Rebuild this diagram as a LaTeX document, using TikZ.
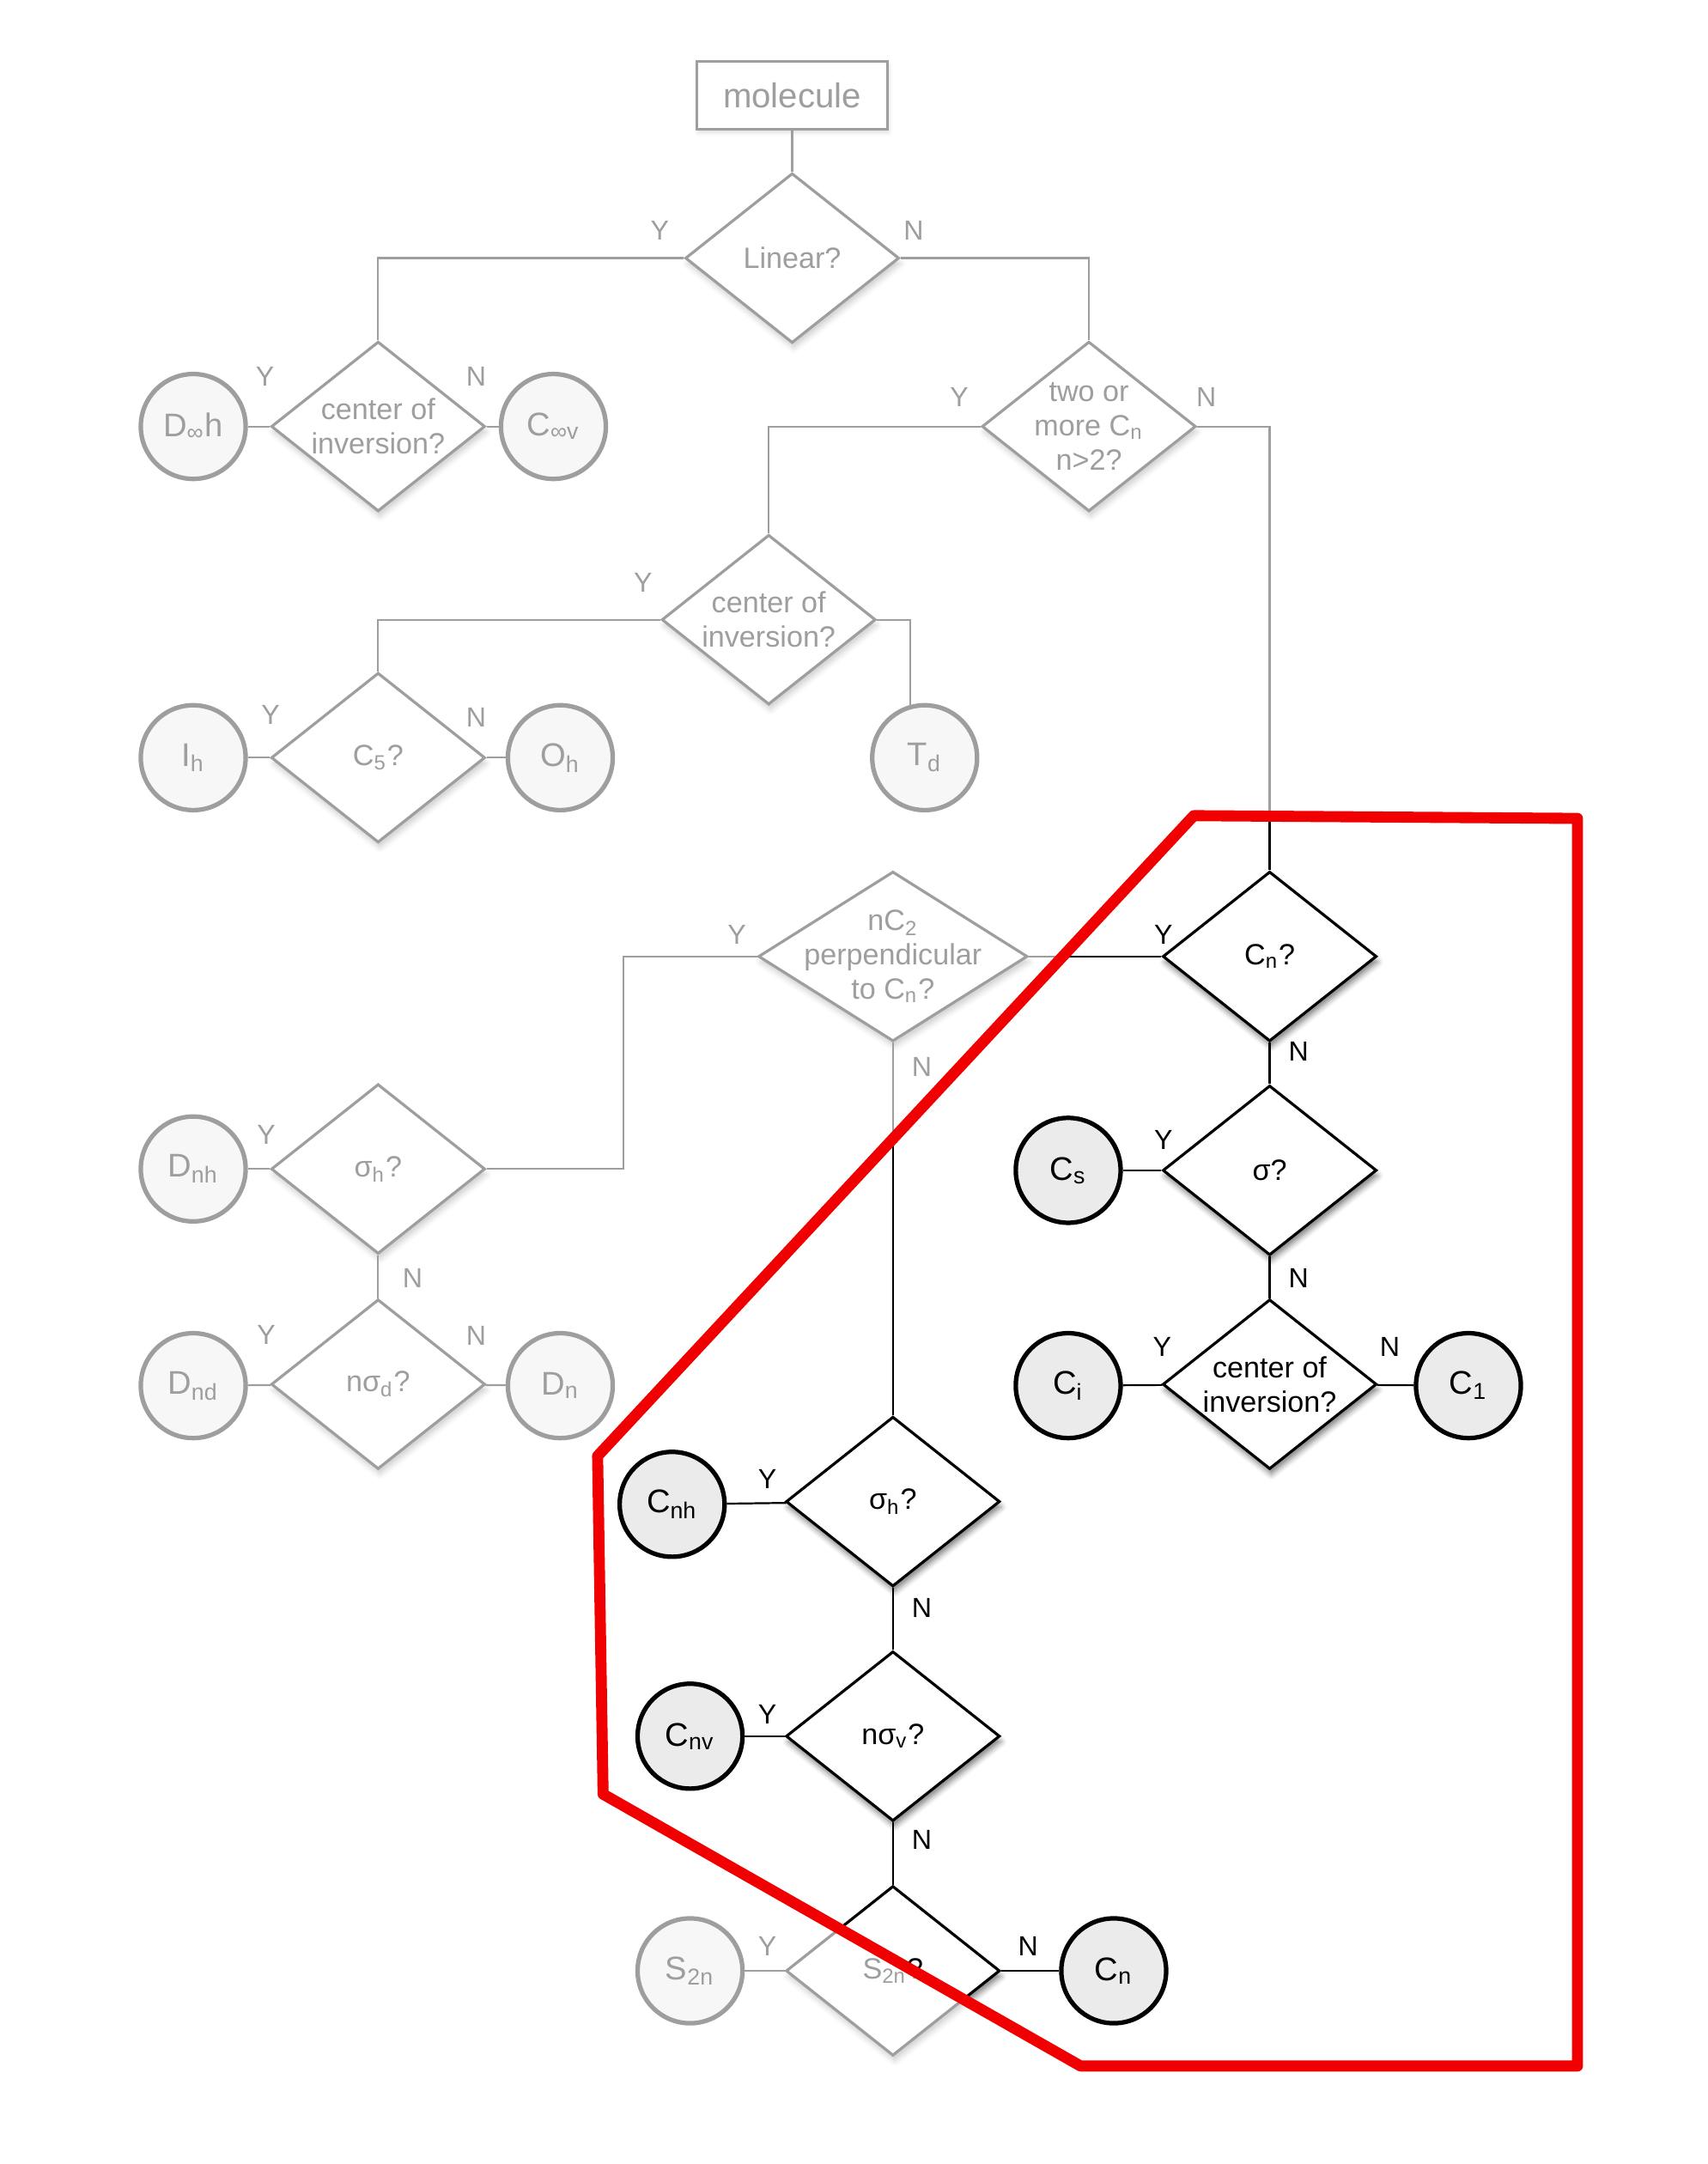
\documentclass[tikz,border=0pt]{standalone}
\usepackage{fontspec}
\setmainfont{Liberation Sans}
\definecolor{leaffill}{HTML}{EAEBEA}
\definecolor{markred}{HTML}{F00000}
\usetikzlibrary{shapes.geometric, shadows.blur}

\begin{document}
\begin{tikzpicture}[
      x=0.4pt, y=-0.4pt,
      font=\fontsize{8.5}{10}\selectfont,
      start/.style={draw, fill=white, line width=0.7pt,
                    minimum width=55.2pt, minimum height=19.6pt,
                    font=\fontsize{10}{12}\selectfont,
                    blur shadow={shadow xshift=0.4pt, shadow yshift=-1pt,
                                 shadow blur radius=1.2pt, shadow opacity=35}},
      ask/.style={diamond, draw, fill=white, line width=0.8pt, inner sep=0pt,
                  minimum width=62pt, minimum height=49.2pt,
                  blur shadow={shadow xshift=0.5pt, shadow yshift=-1.6pt,
                               shadow blur radius=1.6pt, shadow opacity=50}},
      qtext/.style={align=center, inner sep=0pt},
      leaf/.style={circle, draw, line width=1.3pt, fill=leaffill,
                   minimum size=30.4pt, inner sep=0pt,
                   font=\fontsize{9.5}{10}\selectfont},
      yn/.style={font=\fontsize{8}{8}\selectfont, inner sep=0pt},
      link/.style={line width=0.55pt},
      outline/.style={draw=markred, line width=3.2pt, line join=round}
    ]
    \useasboundingbox (0,0) rectangle (1237,1568);

    % questions
    \node[start] (mol) at (574,69) {molecule};
    \node[ask, label={[qtext]center:Linear?}] (linear) at (574,187) {};
    \node[ask, label={[qtext]center:center of\\inversion?}] (cinv1) at (274,309) {};
    \node[ask, label={[qtext]center:two or\\more C\textsubscript{n}\\n>2?}] (two) at (789,309) {};
    \node[ask, label={[qtext]center:center of\\inversion?}] (cinv2) at (557,449) {};
    \node[ask, label={[qtext]center:C\textsubscript{5}?}] (c5) at (274,549) {};
    \node[ask, minimum width=78pt,
          label={[qtext]center:nC\textsubscript{2}\\perpendicular\\to C\textsubscript{n}?}] (nc2) at (647,693) {};
    \node[ask, label={[qtext]center:C\textsubscript{n}?}] (cn) at (920,693) {};
    \node[ask, label={[qtext]center:σ\textsubscript{h}?}] (sigh1) at (274,847) {};
    \node[ask, label={[qtext]center:σ?}] (sig) at (920,848) {};
    \node[ask, label={[qtext]center:nσ\textsubscript{d}?}] (nsd) at (274,1003) {};
    \node[ask, label={[qtext]center:center of\\inversion?}] (cinv3) at (920,1003) {};
    \node[ask, label={[qtext]center:σ\textsubscript{h}?}] (sigh2) at (647,1088) {};
    \node[ask, label={[qtext]center:nσ\textsubscript{v}?}] (nsv) at (647,1258) {};
    \node[ask, label={[qtext]center:S\textsubscript{2n}?}] (s2n) at (647,1428) {};

    % point groups
    \node[leaf] (dinfh) at (140,309) {D\textsubscript{∞}h};
    \node[leaf] (cinfv) at (401,309) {C\textsubscript{∞v}};
    \node[leaf] (ih) at (140,549) {I\textsubscript{h}};
    \node[leaf] (oh) at (406,549) {O\textsubscript{h}};
    \node[leaf] (td) at (670,549) {T\textsubscript{d}};
    \node[leaf] (dnh) at (140,847) {D\textsubscript{nh}};
    \node[leaf] (cs) at (774,848) {C\textsubscript{s}};
    \node[leaf] (dnd) at (140,1004) {D\textsubscript{nd}};
    \node[leaf] (dn) at (406,1004) {D\textsubscript{n}};
    \node[leaf] (ci) at (774,1004) {C\textsubscript{i}};
    \node[leaf] (c1) at (1064,1004) {C\textsubscript{1}};
    \node[leaf] (cnh) at (487,1090) {C\textsubscript{nh}};
    \node[leaf] (cnv) at (500,1258) {C\textsubscript{nv}};
    \node[leaf] (s2nc) at (500,1428) {S\textsubscript{2n}};
    \node[leaf] (cnend) at (807,1428) {C\textsubscript{n}};

    % connectors
    \draw[link] (mol) -- (linear);
    \draw[link] (linear.west) -| (cinv1.north);
    \draw[link] (linear.east) -| (two.north);
    \draw[link] (cinv1) -- (dinfh);
    \draw[link] (cinv1) -- (cinfv);
    \draw[link] (two.west) -| (cinv2.north);
    \draw[link] (two.east) -| (cn.north);
    \draw[link] (cinv2.west) -| (c5.north);
    \draw[link] (cinv2.east) -| (td.105);
    \draw[link] (c5) -- (ih);
    \draw[link] (c5) -- (oh);
    \draw[link] (cn) -- (nc2);
    \draw[link] (cn) -- (sig);
    \draw[link] (nc2.west) -- ++(-97,0) |- (sigh1.east);
    \draw[link] (nc2) -- (sigh2);
    \draw[link] (sigh1) -- (dnh);
    \draw[link] (sigh1) -- (nsd);
    \draw[link] (nsd) -- (dnd);
    \draw[link] (nsd) -- (dn);
    \draw[link] (sig) -- (cs);
    \draw[link] (sig) -- (cinv3);
    \draw[link] (cinv3) -- (ci);
    \draw[link] (cinv3) -- (c1);
    \draw[link] (sigh2) -- (cnh);
    \draw[link] (sigh2) -- (nsv);
    \draw[link] (nsv) -- (cnv);
    \draw[link] (nsv) -- (s2n);
    \draw[link] (s2n) -- (s2nc);
    \draw[link] (s2n) -- (cnend);

    % yes / no marks
    \node[yn] (linY) at (478,167) {Y};
    \node[yn] (linN) at (662,167) {N};
    \node[yn] (ci1Y) at (192,273) {Y};
    \node[yn] (ci1N) at (345,273) {N};
    \node[yn] (twoY) at (695,288) {Y};
    \node[yn] (twoN) at (874,288) {N};
    \node[yn] (ci2Y) at (466,422) {Y};
    \node[yn] (c5Y) at (196,518) {Y};
    \node[yn] (c5N) at (345,520) {N};
    \node[yn] (nc2Y) at (534,677) {Y};
    \node[yn] (nc2N) at (668,773) {N};
    \node[yn] (cnY) at (843,677) {Y};
    \node[yn] (cnN) at (941,762) {N};
    \node[yn] (sigY) at (843,826) {Y};
    \node[yn] (sigN) at (941,926) {N};
    \node[yn] (ci3Y) at (842,976) {Y};
    \node[yn] (ci3N) at (1007,976) {N};
    \node[yn] (sh1Y) at (193,822) {Y};
    \node[yn] (sh1N) at (299,926) {N};
    \node[yn] (nsdY) at (193,967) {Y};
    \node[yn] (nsdN) at (345,968) {N};
    \node[yn] (sh2Y) at (556,1072) {Y};
    \node[yn] (sh2N) at (668,1165) {N};
    \node[yn] (nsvY) at (556,1242) {Y};
    \node[yn] (nsvN) at (668,1333) {N};
    \node[yn] (s2nY) at (556,1410) {Y};
    \node[yn] (s2nN) at (745,1410) {N};

    % fade everything outside the marked region
    \fill[white, fill opacity=0.62, even odd rule]
      (0,0) rectangle (1237,1568)
      (865,591) -- (1143,593) -- (1143,1497) -- (783,1497)
      -- (437,1300) -- (433,1055) -- cycle;
    \draw[outline] (865,591) -- (1143,593) -- (1143,1497) -- (783,1497)
      -- (437,1300) -- (433,1055) -- cycle;
  \end{tikzpicture}
\end{document}
